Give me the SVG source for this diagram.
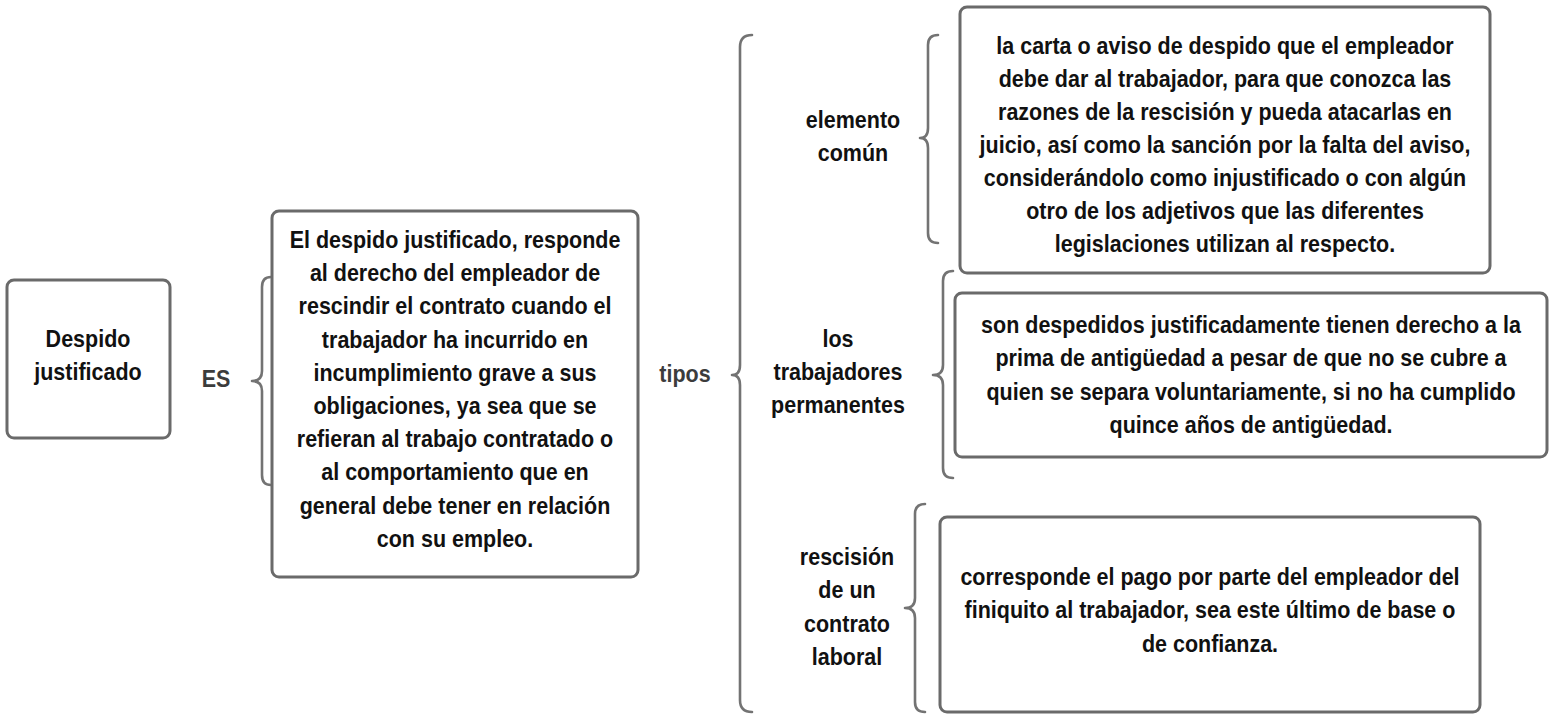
<svg xmlns="http://www.w3.org/2000/svg" width="1557" height="715" viewBox="0 0 1557 715">
<style>
.box{fill:#fff;stroke:#6a6a6a;stroke-width:3}
.br{fill:none;stroke:#737373;stroke-width:2.6;stroke-linejoin:round;stroke-linecap:round}
text{font-family:"Liberation Sans",Arial,sans-serif;font-weight:bold;font-size:23px;fill:#111;text-anchor:middle}
.lbl{fill:#3c3c3c}
</style>
<rect width="1557" height="715" fill="#fff"/>
<g id="connectors">
<path class="br" d="M271,277 Q262,277 262,287 L262,371 Q262,381 252,381 Q262,381 262,391 L262,475 Q262,485 271,485"/>
<path class="br" d="M752,35 Q740,35 740,47 L740,365 Q740,375 732,375 Q740,375 740,385 L740,700 Q740,712 752,712"/>
<path class="br" d="M938,35 Q928,35 928,45 L928,128 Q928,138 920,138 Q928,138 928,148 L928,233 Q928,243 938,243"/>
<path class="br" d="M953,271 Q943,271 943,281 L943,365 Q943,375 933,375 Q943,375 943,385 L943,468 Q943,478 953,478"/>
<path class="br" d="M925,504 Q915,504 915,514 L915,598 Q915,608 905,608 Q915,608 915,618 L915,702 Q915,712 925,712"/>
</g>
<g id="n1">
<rect class="box" x="7" y="280" width="163" height="158" rx="7"/>
<g transform="translate(88 0) scale(0.935 1)"><text x="0" y="347">Despido</text><text x="0" y="380">justificado</text></g>
</g>
<g id="l_es"><g transform="translate(216 0) scale(0.935 1)"><text class="lbl" x="0" y="387">ES</text></g></g>
<g id="n2">
<rect class="box" x="272" y="211" width="366" height="366" rx="7"/>
<g transform="translate(455 0) scale(0.935 1)">
<text x="0" y="248">El despido justificado, responde</text>
<text x="0" y="281.2">al derecho del empleador de</text>
<text x="0" y="314.4">rescindir el contrato cuando el</text>
<text x="0" y="347.6">trabajador ha incurrido en</text>
<text x="0" y="380.8">incumplimiento grave a sus</text>
<text x="0" y="414">obligaciones, ya sea que se</text>
<text x="0" y="447.2">refieran al trabajo contratado o</text>
<text x="0" y="480.4">al comportamiento que en</text>
<text x="0" y="513.6">general debe tener en relación</text>
<text x="0" y="546.8">con su empleo.</text>
</g>
</g>
<g id="l_tipos"><g transform="translate(685 0) scale(0.935 1)"><text class="lbl" x="0" y="382">tipos</text></g></g>
<g id="l_elemento"><g transform="translate(853 0) scale(0.935 1)"><text x="0" y="128">elemento</text><text x="0" y="161">común</text></g></g>
<g id="l_trab"><g transform="translate(838 0) scale(0.935 1)"><text x="0" y="347">los</text><text x="0" y="380">trabajadores</text><text x="0" y="413">permanentes</text></g></g>
<g id="l_resc"><g transform="translate(847 0) scale(0.935 1)"><text x="0" y="565">rescisión</text><text x="0" y="598">de un</text><text x="0" y="632">contrato</text><text x="0" y="665">laboral</text></g></g>
<g id="n3">
<rect class="box" x="960" y="7" width="530" height="266" rx="7"/>
<g transform="translate(1225 0) scale(0.935 1)">
<text x="0" y="54">la carta o aviso de despido que el empleador</text>
<text x="0" y="87">debe dar al trabajador, para que conozca las</text>
<text x="0" y="120">razones de la rescisión y pueda atacarlas en</text>
<text x="0" y="153">juicio, así como la sanción por la falta del aviso,</text>
<text x="0" y="186">considerándolo como injustificado o con algún</text>
<text x="0" y="219">otro de los adjetivos que las diferentes</text>
<text x="0" y="252">legislaciones utilizan al respecto.</text>
</g>
</g>
<g id="n4">
<rect class="box" x="955" y="293" width="592" height="164" rx="7"/>
<g transform="translate(1251 0) scale(0.935 1)">
<text x="0" y="333">son despedidos justificadamente tienen derecho a la</text>
<text x="0" y="366.3">prima de antigüedad a pesar de que no se cubre a</text>
<text x="0" y="399.6">quien se separa voluntariamente, si no ha cumplido</text>
<text x="0" y="433">quince años de antigüedad.</text>
</g>
</g>
<g id="n5">
<rect class="box" x="940" y="517" width="540" height="195" rx="7"/>
<g transform="translate(1210 0) scale(0.935 1)">
<text x="0" y="585">corresponde el pago por parte del empleador del</text>
<text x="0" y="618.3">finiquito al trabajador, sea este último de base o</text>
<text x="0" y="651.6">de confianza.</text>
</g>
</g>
</svg>
